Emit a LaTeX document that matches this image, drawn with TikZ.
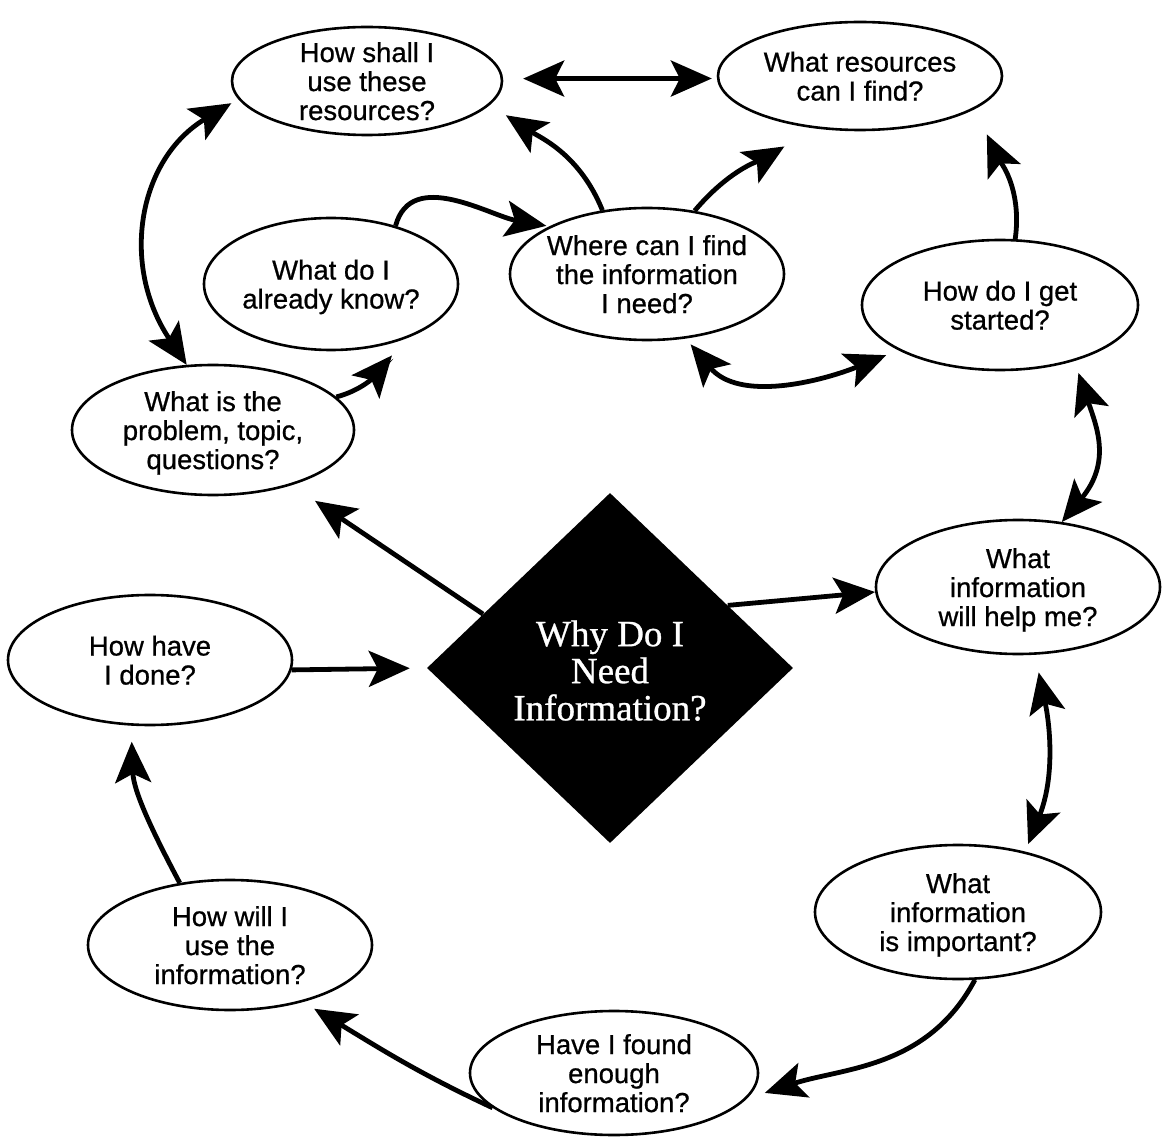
\documentclass[tikz,border=0pt]{standalone}
\usepackage{fontspec}
\setmainfont{Liberation Sans}
\newfontface\qface{Liberation Sans}[FakeBold=0.7]
\newfontface\titleface{Liberation Serif}[FakeBold=0.8]
\usetikzlibrary{shapes.geometric,arrows.meta}
% centred multi-line label that does not enlarge its node
\newcommand\lines[1]{\smash{\makebox[0pt]{\raisebox{-0.38em}{\begin{tabular}{@{}c@{}}#1\end{tabular}}}}}

\tikzset{
  bighead/.tip={Stealth[length=41pt,width=36pt,inset=9pt]},
  q/.style={ellipse, draw, line width=2.6pt, fill=white, inner sep=0pt,
            font=\qface\fontsize{27.5}{29}\selectfont},
  link/.style={line width=4.8pt, -bighead},
  both/.style={line width=4.8pt, bighead-bighead},
}

\begin{document}
\begin{tikzpicture}[x=1pt,y=-1pt]
\useasboundingbox (0,0) rectangle (1168,1139);

% questions
\node[q, minimum width=270pt, minimum height=108pt] (use)   at (367,81)   {\lines{How shall I\\use these\\resources?}};
\node[q, minimum width=284pt, minimum height=108pt] (res)   at (860,76)   {\lines{What resources\\can I find?}};
\node[q, minimum width=254pt, minimum height=132pt] (know)  at (331,284)  {\lines{What do I\\already know?}};
\node[q, minimum width=274pt, minimum height=132pt] (where) at (647,274)  {\lines{Where can I find\\the information\\I need?}};
\node[q, minimum width=276pt, minimum height=130pt] (start) at (1000,305) {\lines{How do I get\\started?}};
\node[q, minimum width=282pt, minimum height=130pt] (prob)  at (213,430)  {\lines{What is the\\problem, topic,\\questions?}};
\node[q, minimum width=284pt, minimum height=134pt] (help)  at (1018,587) {\lines{What\\information\\will help me?}};
\node[q, minimum width=284pt, minimum height=130pt] (done)  at (150,660)  {\lines{How have\\I done?}};
\node[q, minimum width=286pt, minimum height=134pt] (imp)   at (958,912)  {\lines{What\\information\\is important?}};
\node[q, minimum width=284pt, minimum height=130pt] (usei)  at (230,945)  {\lines{How will I\\use the\\information?}};
\node[q, minimum width=288pt, minimum height=124pt] (found) at (614,1073) {\lines{Have I found\\enough\\information?}};

% central question
\node[diamond, fill=black, inner sep=0pt, minimum width=366pt, minimum height=350pt,
      text=white, font=\titleface\fontsize{37}{37}\selectfont] (why) at (610,668)
      {\lines{Why Do I\\Need\\Information?}};

% connectors
\draw[both, shorten <=20pt, shorten >=5pt] (use.1) -- (res.181);
\draw[link, shorten >=19pt] (where.125) to[out=112,in=-33] (use.-11);
\draw[link, shorten >=35pt] (where.53) to[out=50,in=211] (res.229);
\draw[link, shorten >=3pt] (know.42) to[out=75,in=170] (where.154);
\draw[link, shorten >=22pt] (prob.15) to[out=15,in=-130] (know.-36);
\draw[both, shorten >=8pt] (prob.112) .. controls +(-67,-100) and +(-100,60) .. (use.188);
\draw[both, shorten <=7.5pt, shorten >=13pt] (where.-59) to[out=-50,in=202] (start.204);
\draw[link, shorten >=28pt] (start.77) to[out=82,in=-65] (res.-16);
\draw[both, shorten <=12.5pt] (start.-37) .. controls +(22,65) and +(50,-60) .. (help.56);
\draw[link] (why.28) -- (help.182);
\draw[link, shorten >=28pt] (why.157) -- (prob.-35);
\draw[link, shorten >=17pt] (done.-4) -- (why.west);
\draw[link, shorten >=16pt] (usei.129) to[out=118,in=-88] (done.-106);
\draw[link, shorten >=13pt] (found.196) to[out=155,in=-31] (usei.-38);
\draw[link, shorten >=19pt] (imp.-76) to[out=-118,in=18] (found.-11);
\draw[both, shorten <=18pt, shorten >=8pt] (help.-76) .. controls +(15,70) and +(30,-75) .. (imp.42);
\end{tikzpicture}
\end{document}
